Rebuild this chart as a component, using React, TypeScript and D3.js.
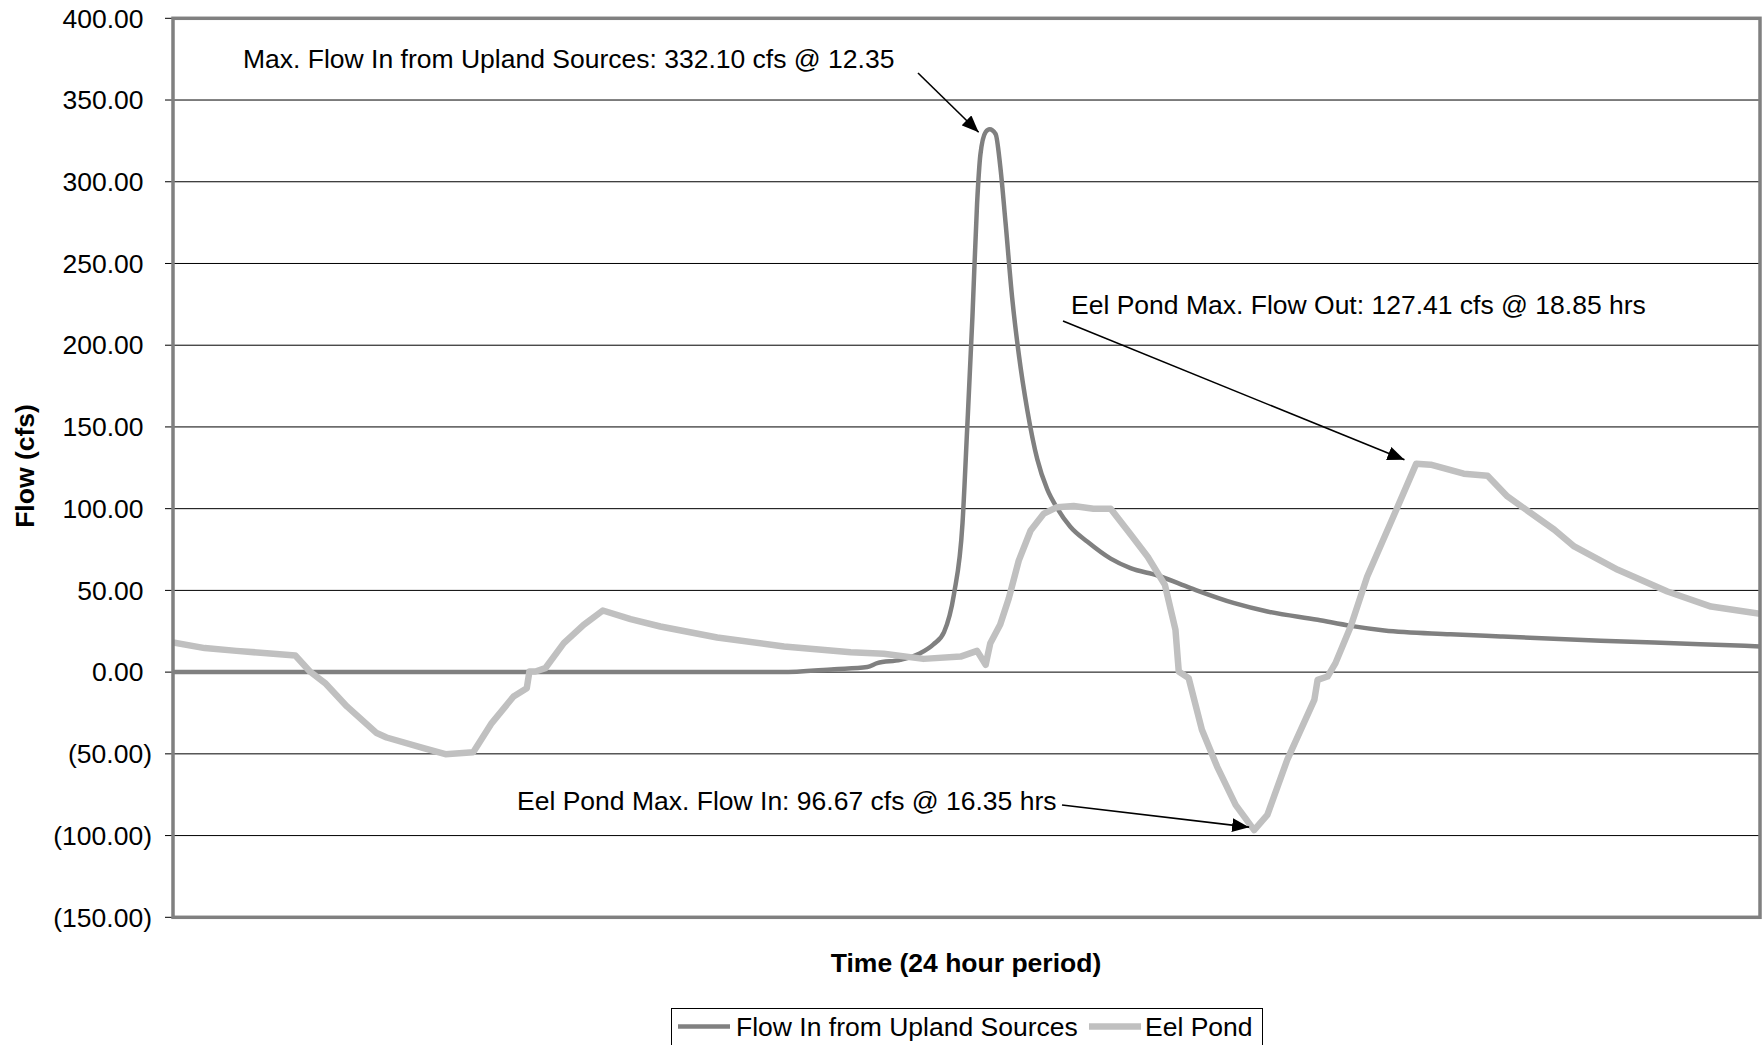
import React from "react";
import * as d3 from "d3";

// ---- data ----
const uplandHours = [0, 9.2, 10.0, 10.5, 10.65, 11.0, 11.3, 11.5, 11.66, 11.81, 11.94, 12.01, 12.09, 12.16, 12.21, 12.29, 12.35, 12.44, 12.51, 12.59, 12.69, 12.79, 12.92, 13.07, 13.22, 13.37, 13.57, 13.83, 14.18, 14.48, 14.89, 15.39, 16.05, 16.55, 17.31, 17.81, 18.32, 19.32, 20.08, 21.59, 23.1, 24];
const uplandFlow = [0, 0, 1.8, 3.1, 5.5, 7.5, 11.6, 17, 24.5, 47.6, 91.3, 148.7, 217.7, 286.7, 316.6, 330.4, 332.1, 329.2, 309.7, 275.2, 229.2, 194.7, 160.2, 130.3, 111.9, 100.4, 88.9, 79.7, 69.4, 63.6, 59.1, 51.4, 42.2, 37.1, 32, 28.3, 25.5, 23.2, 21.8, 19.2, 17.1, 15.7];

const eelHours = [0, 0.48, 0.96, 1.47, 1.85, 2.07, 2.3, 2.63, 3.08, 3.23, 3.79, 4.12, 4.54, 4.82, 5.15, 5.35, 5.39, 5.48, 5.63, 5.91, 6.21, 6.5, 6.92, 7.37, 8.23, 9.24, 10.25, 10.75, 11.35, 11.91, 12.16, 12.29, 12.36, 12.51, 12.64, 12.79, 12.97, 13.17, 13.37, 13.62, 13.92, 14.18, 14.48, 14.74, 15.0, 15.16, 15.21, 15.36, 15.56, 15.79, 16.07, 16.35, 16.55, 16.85, 17.26, 17.31, 17.46, 17.58, 17.81, 18.06, 18.5, 18.8, 19.02, 19.52, 19.88, 20.18, 20.89, 21.19, 21.85, 22.6, 23.26, 24];
const eelFlow = [18.1, 14.7, 13.0, 11.4, 10.2, 0.4, -6.7, -21, -37.3, -40, -46.5, -50.2, -49, -31.2, -14.9, -9.8, 0.4, 0.4, 2.4, 17.7, 28.9, 37.7, 32.4, 27.9, 21.2, 15.7, 12.2, 11.2, 8.1, 9.5, 13, 4.5, 17.7, 29.1, 45.2, 68.2, 86.6, 97, 100.9, 101.6, 100, 100, 84.3, 70.6, 53.4, 25.9, 0.4, -3.7, -35.3, -57.8, -81.2, -96.67, -87.3, -53.7, -17, -4.7, -2.7, 5.5, 27.9, 58.5, 99.3, 127.41, 126.9, 121.4, 120.1, 107.5, 87.1, 76.9, 62.6, 49.3, 40.1, 35.7];

const yTicks = [400, 350, 300, 250, 200, 150, 100, 50, 0, -50, -100, -150];
const seriesNames = ["Flow In from Upland Sources", "Eel Pond"];

const annotationTexts = [
  "Max. Flow In from Upland Sources: 332.10 cfs @ 12.35",
  "Eel Pond Max. Flow Out: 127.41 cfs @ 18.85 hrs",
  "Eel Pond Max. Flow In: 96.67 cfs @ 16.35 hrs",
];
const annotationTargetHours = [12.35, 18.85, 16.35];
const annotationTargetFlows = [332.1, 127.41, -96.67];

// ---- layout ----
const W = 1762;
const H = 1045;
const PL = 173, PR = 1760, PT = 18.3, PB = 917.3;
const FONT = "'Liberation Sans', Arial, Helvetica, sans-serif";
const FS = 26.5;

const labelLayout = [
  { x: 243, y: 68, sx: 918, sy: 73, dx: -11, dy: 3 },
  { x: 1071, y: 314, sx: 1063, sy: 321, dx: -15, dy: -4 },
  { x: 517, y: 810, sx: 1062, sy: 805, dx: -5, dy: -3 },
];

const fmt = (v: number) => (v < 0 ? `(${Math.abs(v).toFixed(2)})` : v.toFixed(2));

export default function App() {
  const x = d3.scaleLinear().domain([0, 24]).range([PL, PR]);
  const y = d3.scaleLinear().domain([-150, 400]).range([PB, PT]);

  const upland = uplandHours.map((h, i) => [h, uplandFlow[i]] as [number, number]);
  const eel = eelHours.map((h, i) => [h, eelFlow[i]] as [number, number]);

  const uplandLine = d3
    .line<[number, number]>()
    .x((d) => x(d[0]))
    .y((d) => y(d[1]))
    .curve(d3.curveMonotoneX);
  const eelLine = d3
    .line<[number, number]>()
    .x((d) => x(d[0]))
    .y((d) => y(d[1]))
    .curve(d3.curveLinear);

  const legendY = 1026.5;

  return (
    <svg
      width={W}
      height={H}
      style={{ position: "absolute", left: 0, top: 0, background: "#fff" }}
      fontFamily={FONT}
    >
      <defs>
        <marker
          id="arrow"
          markerUnits="userSpaceOnUse"
          markerWidth={18}
          markerHeight={14}
          refX={17}
          refY={7}
          orient="auto"
        >
          <path d="M0,0 L17,7 L0,14 Z" fill="#000" />
        </marker>
        <clipPath id="plotclip">
          <rect x={PL} y={PT} width={PR - PL} height={PB - PT} />
        </clipPath>
      </defs>
      <rect x={0} y={0} width={W} height={H} fill="#fff" />

      {/* gridlines */}
      {yTicks.map((t) => (
        <line key={"g" + t} x1={PL} x2={PR} y1={y(t)} y2={y(t)} stroke="#000" strokeWidth={1} />
      ))}

      {/* tick marks and labels */}
      {yTicks.map((t) => (
        <g key={"t" + t}>
          <line x1={PL - 8} x2={PL} y1={y(t)} y2={y(t)} stroke="#000" strokeWidth={1} />
          <text
            x={t < 0 ? 152 : 143.5}
            y={y(t)}
            dy="0.35em"
            textAnchor="end"
            fontSize={FS}
            fill="#000"
          >
            {fmt(t)}
          </text>
        </g>
      ))}

      {/* series */}
      <g clipPath="url(#plotclip)">
        <path d={uplandLine(upland) || ""} fill="none" stroke="#808080" strokeWidth={4.5} strokeLinejoin="round" />
        <path d={eelLine(eel) || ""} fill="none" stroke="#C0C0C0" strokeWidth={6.5} strokeLinejoin="round" />
      </g>

      {/* plot frame */}
      <rect x={PL} y={PT} width={PR - PL} height={PB - PT} fill="none" stroke="#808080" strokeWidth={3.5} />

      {/* annotations */}
      {annotationTexts.map((txt, i) => {
        const L = labelLayout[i];
        const tx = x(annotationTargetHours[i]) + L.dx;
        const ty = y(annotationTargetFlows[i]) + L.dy;
        return (
          <g key={"a" + i}>
            <text x={L.x} y={L.y} fontSize={FS} fill="#000">
              {txt}
            </text>
            <line x1={L.sx} y1={L.sy} x2={tx} y2={ty} stroke="#000" strokeWidth={1.6} markerEnd="url(#arrow)" />
          </g>
        );
      })}

      {/* axis titles */}
      <text x={966} y={972} textAnchor="middle" fontSize={FS} fontWeight="bold" fill="#000">
        Time (24 hour period)
      </text>
      <text
        transform={`translate(34, 466) rotate(-90)`}
        textAnchor="middle"
        fontSize={FS}
        fontWeight="bold"
        fill="#000"
      >
        Flow (cfs)
      </text>

      {/* legend */}
      <rect x={671.5} y={1008.5} width={591} height={60} fill="#fff" stroke="#000" strokeWidth={1} />
      <line x1={678} x2={730} y1={legendY} y2={legendY} stroke="#808080" strokeWidth={4.5} />
      <text x={736} y={legendY} dy="0.35em" fontSize={FS} fill="#000">
        {seriesNames[0]}
      </text>
      <line x1={1089} x2={1141} y1={legendY} y2={legendY} stroke="#C0C0C0" strokeWidth={6.5} />
      <text x={1145} y={legendY} dy="0.35em" fontSize={FS} fill="#000">
        {seriesNames[1]}
      </text>
    </svg>
  );
}
